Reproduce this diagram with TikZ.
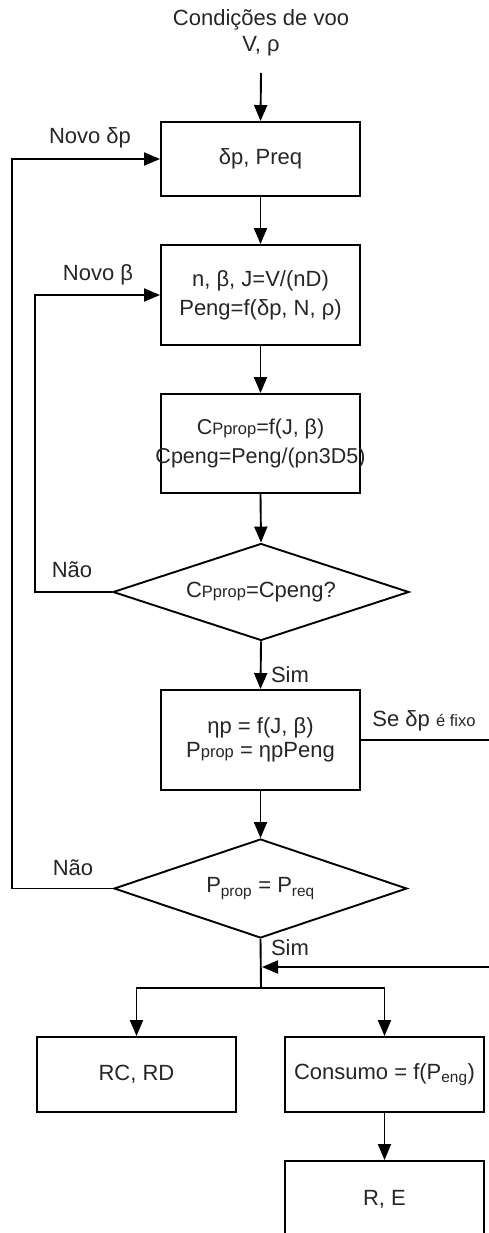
\documentclass[tikz,border=0pt]{standalone}
\usepackage{fontspec}
\setmainfont{Liberation Sans}
\usetikzlibrary{shapes.geometric,arrows.meta}
\newcommand{\smtxt}[1]{{\fontsize{16.5}{16.5}\selectfont #1}}
\begin{document}
\begin{tikzpicture}[x=1pt,y=-1pt,
  every node/.style={font=\fontsize{22}{26}\selectfont, text=black!85},
  box/.style={draw=black, line width=1.9pt, minimum width=199pt, inner sep=1pt, align=center},
  dec/.style={draw=black, line width=1.9pt, diamond, aspect=3, inner sep=0pt, align=center},
  arr/.style={draw=black, line width=1.9pt, -{Triangle[length=16pt,width=13pt]}},
  ln/.style={draw=black, line width=1.9pt},
  lbl/.style={inner sep=1pt}
]
\useasboundingbox (0,0) rectangle (488,1233);
\fill[white] (0,0) rectangle (488,1233);

\node[align=center] (title) at (261,33) {Condições de voo\\V, ρ};
\coordinate (tin) at (261,73);

\node[box, minimum height=74pt] (b1) at (260.5,159) {δp, Preq};
\node[box, minimum height=100pt, font=\fontsize{22}{29}\selectfont] (b2) at (260.5,295) {n, β, J=V/(nD)\\Peng=f(δp, N, ρ)};
\node[box, minimum height=99pt, inner sep=0pt, font=\fontsize{21.5}{29}\selectfont] (b3) at (260.5,443.5) {\makebox[190pt][c]{C\smtxt{Pprop}=f(J, β)}\\\makebox[190pt][c]{Cpeng=Peng/(ρn3D5)}};
\node[dec, minimum width=296pt, minimum height=97pt] (d1) at (261,592) {C\smtxt{Pprop}=Cpeng?};
\node[box, minimum height=100pt, font=\fontsize{22}{24}\selectfont] (b4) at (260.5,740) {ηp = f(J, β)\\P\smtxt{prop} = ηpPeng};
\node[dec, minimum width=293pt, minimum height=99pt] (d2) at (260.5,888.5) {P\textsubscript{prop} = P\textsubscript{req}};
\node[box, minimum height=75pt] (rc) at (136.5,1074.5) {RC, RD};
\node[box, minimum height=75pt] (cons) at (384.5,1074.5) {Consumo = f(P\textsubscript{eng})};
\node[box, minimum height=76pt] (re) at (384.5,1199) {R, E};

\coordinate (j) at (261,988);
\coordinate (fx) at (495,740);
\coordinate (rt) at (262,967);

\draw[arr] (tin) -- (b1.north);
\draw[arr] (b1) -- (b2);
\draw[arr] (b2) -- (b3);
\draw[arr] (b3.south) -- (d1.north);
\draw[arr] (d1.south) -- (b4.north);
\draw[arr] (b4.south) -- (d2.north);
\draw[arr] (d1.west) -- ++(-77,0) |- (b2.west);
\draw[arr] (d2.west) -- ++(-101,0) |- (b1.west);
\draw[ln] (d2.south) -- (j);
\draw[arr] (j) -| (rc.north);
\draw[arr] (j) -| (cons.north);
\draw[arr] (cons) -- (re);
\draw[arr] (b4.east) -- (fx) |- (rt);

\node[lbl] (l1) at (90,138) {Novo δp};
\node[lbl] (l2) at (98,275) {Novo β};
\node[lbl] (l3) at (72,570) {Não};
\node[lbl] (l4) at (73,868) {Não};
\node[lbl] (l5) at (290,675) {Sim};
\node[lbl] (l6) at (290,948) {Sim};
\node[lbl] (l7) at (424,721) {Se δp \smtxt{é fixo}};
\end{tikzpicture}
\end{document}
